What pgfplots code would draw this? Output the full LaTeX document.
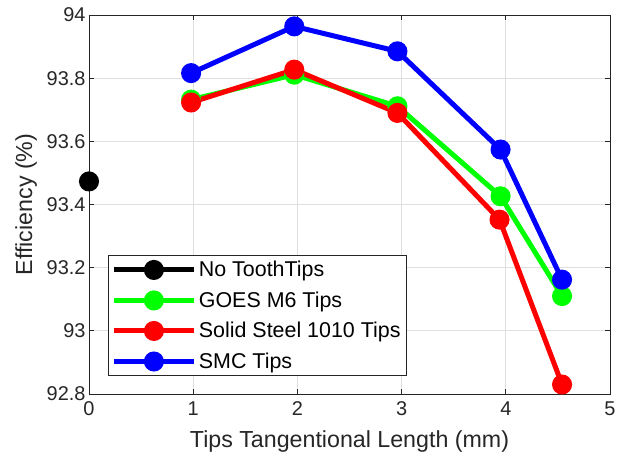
\documentclass[border=0pt]{standalone}
\usepackage{pgfplots}
\pgfplotsset{compat=1.18}
\usepackage{fontspec}
\setmainfont{Liberation Sans}
\definecolor{axgray}{RGB}{38,38,38}
\definecolor{gridgray}{RGB}{223,223,223}
\begin{document}
\begin{tikzpicture}
\useasboundingbox (-89bp,-66bp) rectangle (537bp,394bp);
\begin{axis}[
  scale only axis,
  width=521bp, height=379bp,
  at={(0,0)}, anchor=south west,
  xmin=0, xmax=5, ymin=92.8, ymax=94,
  xtick={0,1,2,3,4,5},
  ytick={92.8,93,93.2,93.4,93.6,93.8,94},
  yticklabels={92.8,93,93.2,93.4,93.6,93.8,94},
  grid=major,
  major grid style={gridgray, line width=0.8bp},
  axis line style={axgray, line width=0.9bp},
  tick style={axgray, line width=0.8bp},
  tick align=inside,
  major tick length=5bp,
  xtick pos=both, ytick pos=both,
  ticklabel style={font=\fontsize{20}{22}\selectfont, text=axgray},
  xticklabel style={yshift=-4bp},
  /pgf/number format/assume math mode=true,
  label style={font=\fontsize{23.3}{26}\selectfont, text=axgray},
  xlabel={Tips Tangentional Length (mm)},
  ylabel={Efficiency (\%)},
  xlabel style={yshift=-8bp},
  ylabel style={yshift=3bp},
  clip=false,
  legend cell align=left,
  legend style={at={(0.0365,0.366)}, anchor=north west,
    draw=axgray, line width=0.8bp, font=\fontsize{21.5}{24}\selectfont,
    inner sep=3bp, row sep=8bp,
    nodes={inner sep=2.5bp, text depth=0.2em}},
  legend image code/.code={
    \draw[#1, mark repeat=2, mark phase=2] plot coordinates {(0bp,0bp) (40bp,0bp) (80bp,0bp)};
  },
  every axis plot/.append style={line width=5bp, mark=*, mark size=7.5bp, mark options={solid}},
]
\addplot[black] coordinates {(0,93.473)};
\addlegendentry{No ToothTips}
\addplot[green] coordinates {(0.98,93.732) (1.97,93.811) (2.96,93.711) (3.95,93.426) (4.54,93.11)};
\addlegendentry{GOES M6 Tips}
\addplot[red] coordinates {(0.98,93.723) (1.97,93.827) (2.96,93.69) (3.94,93.352) (4.54,92.83)};
\addlegendentry{Solid Steel 1010 Tips}
\addplot[blue] coordinates {(0.98,93.816) (1.97,93.964) (2.96,93.885) (3.95,93.574) (4.54,93.162)};
\addlegendentry{SMC Tips}
\end{axis}
\end{tikzpicture}
\end{document}
